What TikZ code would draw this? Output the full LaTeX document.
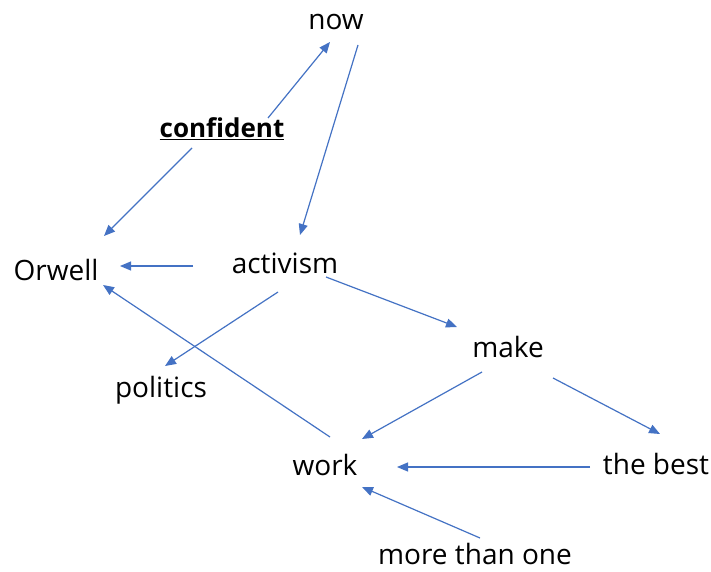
\documentclass[tikz,border=0pt]{standalone}
\usepackage{fontspec}
\setmainfont{Open Sans}
\usetikzlibrary{arrows.meta}
\definecolor{arrowblue}{HTML}{4472C4}
\begin{document}
\begin{tikzpicture}[x=1pt,y=-1pt,
  word/.style={inner sep=0pt, font=\fontsize{28}{32}\selectfont, text=black},
  link/.style={draw=arrowblue, line width=1.2pt, -{Triangle[length=11pt,width=9pt]}}]
\useasboundingbox[fill=white] (0,0) rectangle (711,572);
% words
\node[word] (now) at (336,22) {now};
\node[word, font=\fontsize{26}{30}\selectfont] (confident) at (222,129) {\textbf{\underline{confident}}};
\node[word] (orwell) at (56,270) {Orwell};
\node[word] (activism) at (285,263) {activism};
\node[word] (make) at (508,347) {make};
\node[word] (politics) at (161,390) {politics};
\node[word] (work) at (325,465) {work};
\node[word] (thebest) at (656,464) {the best};
\node[word] (more) at (475,554) {more than one};
% arrow ends
\coordinate (c1a) at (268,118); \coordinate (c1b) at (330,42);
\coordinate (c2a) at (358,45);  \coordinate (c2b) at (300,235);
\coordinate (c3a) at (192,148); \coordinate (c3b) at (104,236);
\coordinate (c4a) at (193,266); \coordinate (c4b) at (120,266);
\coordinate (c5a) at (278,292); \coordinate (c5b) at (165,366);
\coordinate (c6a) at (330,437); \coordinate (c6b) at (103,285);
\coordinate (c7a) at (326,277); \coordinate (c7b) at (457,327);
\coordinate (c8a) at (482,372); \coordinate (c8b) at (362,439);
\coordinate (c9a) at (553,378); \coordinate (c9b) at (660,434);
\coordinate (c10a) at (590,467); \coordinate (c10b) at (397,467);
\coordinate (c11a) at (480,538); \coordinate (c11b) at (362,487);
% connectors
\draw[link] (c1a) -- (c1b);
\draw[link] (c2a) -- (c2b);
\draw[link] (c3a) -- (c3b);
\draw[link] (c4a) -- (c4b);
\draw[link] (c5a) -- (c5b);
\draw[link] (c6a) -- (c6b);
\draw[link] (c7a) -- (c7b);
\draw[link] (c8a) -- (c8b);
\draw[link] (c9a) -- (c9b);
\draw[link] (c10a) -- (c10b);
\draw[link] (c11a) -- (c11b);
\end{tikzpicture}
\end{document}
